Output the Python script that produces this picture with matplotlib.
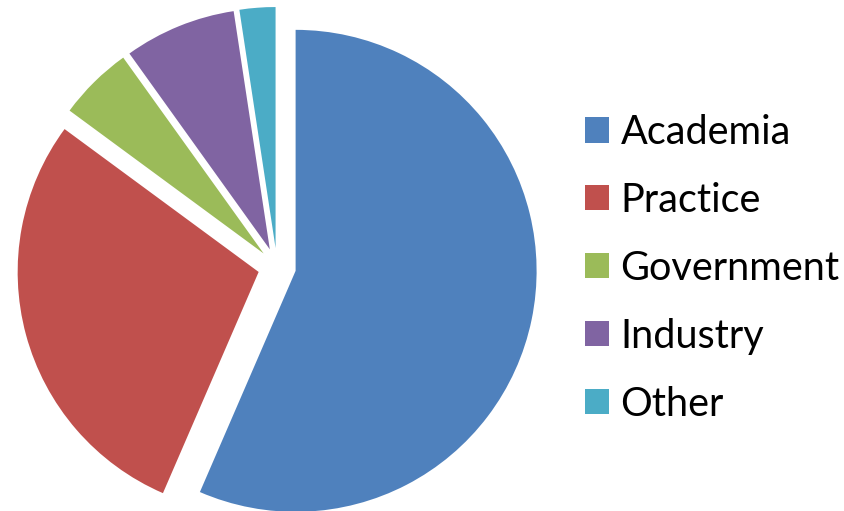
import matplotlib
matplotlib.use("Agg")
import matplotlib.pyplot as plt
from matplotlib.patches import Patch

categories = ["Academia", "Practice", "Government", "Industry", "Other"]
values = [56.5, 28.6, 5.0, 7.5, 2.4]
colors = ["#4F81BD", "#C0504D", "#9BBB59", "#8064A2", "#4BACC6"]

plt.rcParams['font.family'] = ['Lato', 'DejaVu Sans']

fig = plt.figure(figsize=(8.44, 5.11), dpi=100)
ax = fig.add_axes([0, 0, 1, 1])

ax.pie(values, colors=colors, startangle=90, counterclock=False,
       explode=[19] * len(values), radius=241, center=(277, 244),
       wedgeprops=dict(linewidth=0), frame=True)
ax.set_xlim(0, 844)
ax.set_ylim(0, 511)
ax.axis('off')
ax.set_aspect('equal')

handles = [Patch(facecolor=c, edgecolor='none') for c in colors]
ax.legend(handles, categories, loc='upper left', bbox_to_anchor=(585/844, 1 - 114/511),
          frameon=False, fontsize=28.5, handlelength=0.6, handleheight=0.6,
          handletextpad=0.3, labelspacing=0.78, borderaxespad=0, borderpad=0)

fig.savefig("out.png", dpi=100)
